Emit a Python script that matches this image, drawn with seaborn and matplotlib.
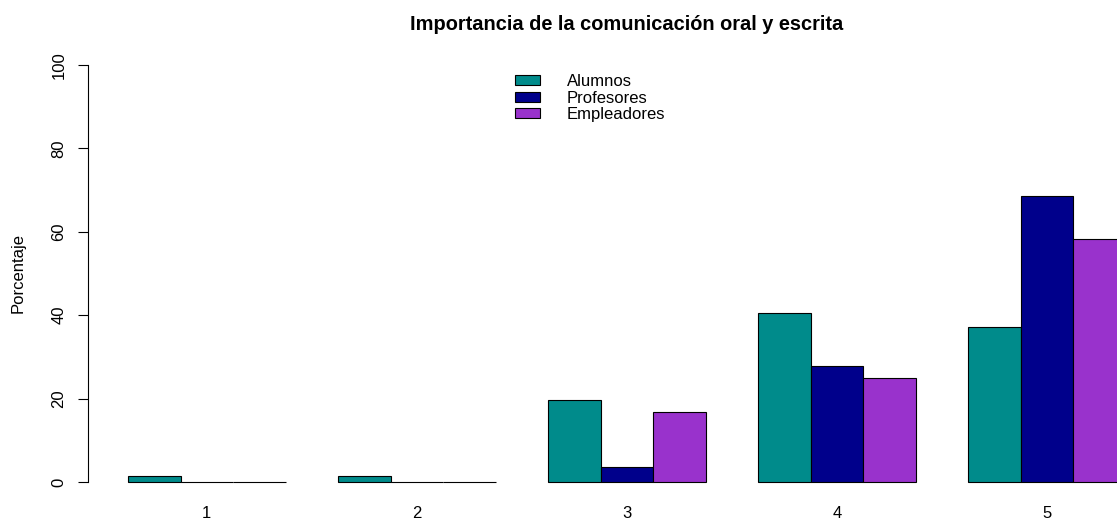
import numpy as np
import pandas as pd
import matplotlib
matplotlib.use("Agg")
import matplotlib.pyplot as plt
import seaborn as sns
from matplotlib.patches import Patch

# datos (porcentaje por nivel de importancia)
niveles = ["1", "2", "3", "4", "5"]
grupos = ["Alumnos", "Profesores", "Empleadores"]
alumnos = [1.4, 1.4, 19.6, 40.5, 37.2]
profesores = [0.0, 0.0, 3.7, 27.8, 68.5]
empleadores = [0.0, 0.0, 16.7, 25.0, 58.3]
colores = ["#008B8B", "#00008B", "#9932CC"]

df = pd.DataFrame({
    "nivel": niveles * 3,
    "grupo": np.repeat(grupos, len(niveles)),
    "pct": alumnos + profesores + empleadores,
})

sns.set_style("white")
plt.rcParams["font.family"] = ["Liberation Sans", "DejaVu Sans"]
plt.rcParams["text.color"] = "black"
plt.rcParams["xtick.color"] = "black"
plt.rcParams["ytick.color"] = "black"

W, H = 1117, 520
fig = plt.figure(figsize=(W / 100, H / 100), dpi=100)
ax = fig.add_axes([88 / W, (H - 498.7) / H, (W - 88) / W, (498.7 - 48.3) / H])

sns.barplot(data=df, x="nivel", y="pct", hue="grupo", hue_order=grupos,
            palette=colores, width=0.75, gap=0, edgecolor="black",
            linewidth=0.8, saturation=1, legend=False, ax=ax)

ax.set_xlim(-0.5655, 4.3345)
ax.set_ylim(-4, 104)
ax.set_xlabel("")
ax.set_ylabel("")
for s in ["top", "right", "bottom"]:
    ax.spines[s].set_visible(False)
ax.spines["left"].set_bounds(0, 100)
ax.spines["left"].set_color("black")
ax.spines["left"].set_linewidth(0.8)
ax.set_yticks([0, 20, 40, 60, 80, 100])
ax.tick_params(axis="y", left=True, length=7.5, width=0.8, pad=8, labelsize=12)
ax.tick_params(axis="x", bottom=False, pad=1.5, labelsize=12)
for t in ax.get_yticklabels():
    t.set_rotation(90)
    t.set_va("center")

fig.text(627 / W, 1 - 25 / H, "Importancia de la comunicación oral y escrita",
         ha="center", va="center", fontsize=14.4, fontweight="bold")
fig.text(18 / W, 1 - 273 / H, "Porcentaje", rotation=90,
         ha="center", va="center", fontsize=12)

handles = [Patch(facecolor=c, edgecolor="black", linewidth=0.8) for c in colores]
fig.legend(handles, grupos, loc="upper left", bbox_to_anchor=(515 / W, 1 - 74 / H),
           frameon=False, fontsize=12, handlelength=1.5, handleheight=0.55,
           handletextpad=1.6, labelspacing=0.1, borderpad=0, borderaxespad=0)

fig.savefig("out.png", dpi=100)
